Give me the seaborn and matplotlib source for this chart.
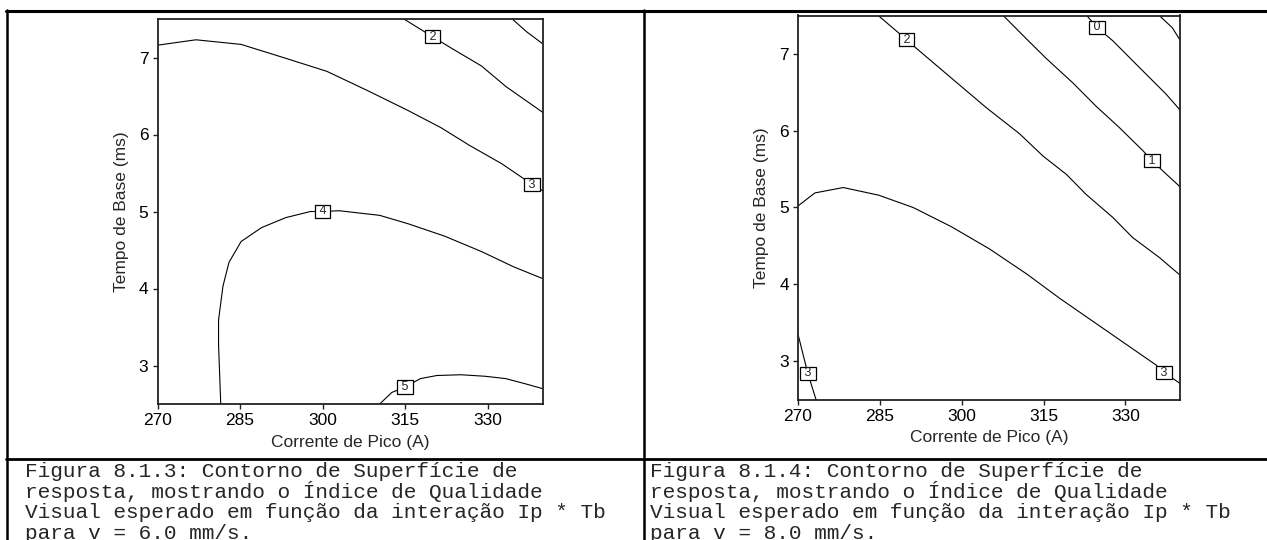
import matplotlib
matplotlib.use("Agg")
import matplotlib.pyplot as plt
from matplotlib.lines import Line2D
import pandas as pd
import seaborn as sns

W, H = 1267, 540

# eixos comuns
ip_ticks = [270, 285, 300, 315, 330]
tb_ticks = [3, 4, 5, 6, 7]
ip_lim = (270, 340)
tb_lim = (2.5, 7.5)

# Figura 8.1.3 (v = 6.0 mm/s) - curvas de nivel
a_lv1_ip = [334.5, 337.1, 340.0]
a_lv1_tb = [7.50, 7.335, 7.18]
a_lv2_ip = [314.8, 320.0, 323.7, 328.9, 333.4, 337.8, 340.0]
a_lv2_tb = [7.50, 7.27, 7.11, 6.89, 6.62, 6.40, 6.29]
a_lv3_ip = [270.0, 277.0, 285.2, 293.3, 300.8, 308.2, 315.6, 321.5, 326.7, 332.6, 336.2, 338.1, 340.0]
a_lv3_tb = [7.16, 7.23, 7.17, 6.99, 6.82, 6.57, 6.31, 6.09, 5.86, 5.62, 5.445, 5.35, 5.27]
a_lv4_ip = [281.5, 281.1, 281.1, 281.9, 283.0, 285.2, 288.9, 293.3, 297.8, 300.0, 303.0,
            310.4, 315.6, 322.2, 328.9, 334.8, 340.0]
a_lv4_tb = [2.50, 3.27, 3.59, 4.03, 4.34, 4.61, 4.79, 4.92, 5.00, 5.00, 5.01,
            4.95, 4.84, 4.68, 4.48, 4.28, 4.13]
a_lv5_ip = [310.4, 312.6, 315.0, 317.8, 320.8, 325.2, 329.6, 333.3, 337.0, 340.0]
a_lv5_tb = [2.50, 2.65, 2.72, 2.83, 2.87, 2.88, 2.86, 2.83, 2.76, 2.70]
a_lab_ip = [320.0, 338.1, 300.0, 315.0]
a_lab_tb = [7.27, 5.35, 5.00, 2.72]
a_lab_txt = ["2", "3", "4", "5"]

# Figura 8.1.4 (v = 8.0 mm/s)
b_lvm1_ip = [336.2, 338.6, 340.0]
b_lvm1_tb = [7.50, 7.34, 7.18]
b_lv0_ip = [322.9, 324.8, 327.7, 331.9, 335.0, 337.4, 340.0]
b_lv0_tb = [7.50, 7.345, 7.17, 6.87, 6.65, 6.48, 6.27]
b_lv1_ip = [307.6, 311.8, 315.5, 320.4, 324.6, 328.9, 333.2, 334.9, 336.8, 340.0]
b_lv1_tb = [7.50, 7.20, 6.94, 6.62, 6.32, 6.04, 5.74, 5.61, 5.48, 5.27]
b_lv2_ip = [284.7, 289.9, 291.4, 297.2, 304.5, 310.6, 314.9, 319.2, 322.8, 327.7, 331.3, 336.2, 340.0]
b_lv2_tb = [7.50, 7.185, 7.09, 6.74, 6.30, 5.96, 5.67, 5.43, 5.17, 4.87, 4.61, 4.35, 4.12]
b_lv3_ip = [270.0, 273.1, 278.3, 284.8, 291.1, 298.1, 305.1, 312.0, 317.9, 324.0, 330.1,
            335.6, 337.1, 340.0]
b_lv3_tb = [5.02, 5.19, 5.26, 5.16, 5.00, 4.75, 4.46, 4.13, 3.82, 3.52, 3.22,
            2.95, 2.85, 2.71]
b_lv3b_ip = [270.0, 271.8, 273.3]
b_lv3b_tb = [3.35, 2.84, 2.50]
b_lab_ip = [289.9, 324.8, 334.9, 337.1, 271.8]
b_lab_tb = [7.185, 7.345, 5.61, 2.85, 2.84]
b_lab_txt = ["2", "0", "1", "3", "3"]

cap_a = ["Figura 8.1.3: Contorno de Superfície de",
         "resposta, mostrando o Índice de Qualidade",
         "Visual esperado em função da interação Ip * Tb",
         "para v = 6.0 mm/s."]
cap_b = ["Figura 8.1.4: Contorno de Superfície de",
         "resposta, mostrando o Índice de Qualidade",
         "Visual esperado em função da interação Ip * Tb",
         "para v = 8.0 mm/s."]


def curves_frame(curves):
    parts = []
    for k, (xs, ys) in enumerate(curves):
        parts.append(pd.DataFrame({"ip": xs, "tb": ys, "curva": k}))
    return pd.concat(parts, ignore_index=True)


def draw_panel(ax, curves, lab_x, lab_y, lab_txt):
    df = curves_frame(curves)
    sns.lineplot(data=df, x="ip", y="tb", units="curva", estimator=None, sort=False,
                 color="black", linewidth=0.8, legend=False, ax=ax)
    for x, y, t in zip(lab_x, lab_y, lab_txt):
        ax.text(x, y, f" {t} ", fontsize=9, ha="center", va="center", zorder=5,
                bbox=dict(boxstyle="square,pad=0.06", fc="white", ec="black", lw=0.9))
    ax.set_xlim(*ip_lim)
    ax.set_ylim(*tb_lim)
    ax.set_xticks(ip_ticks)
    ax.set_yticks(tb_ticks)
    ax.tick_params(direction="out", length=3.5, width=1.0, labelsize=12.5, pad=3,
                   color="#222222", labelcolor="black")
    for sp in ax.spines.values():
        sp.set_visible(True)
        sp.set_linewidth(1.3)
        sp.set_color("#222222")
    ax.set_xlabel("Corrente de Pico (A)", fontsize=12.5, labelpad=5)
    ax.set_ylabel("Tempo de Base (ms)", fontsize=12.5, labelpad=7)
    ax.grid(False)


sns.set_theme(style="ticks")
plt.rcParams["font.family"] = ["Liberation Sans", "DejaVu Sans"]

fig = plt.figure(figsize=(W / 100, H / 100), dpi=100)
fig.patch.set_facecolor("white")

ax1 = fig.add_axes([157.5 / W, 1 - 404 / H, 385 / W, 385 / H])
ax2 = fig.add_axes([798 / W, 1 - 399.5 / H, 382 / W, 384 / H])

draw_panel(ax1,
           [(a_lv1_ip, a_lv1_tb), (a_lv2_ip, a_lv2_tb), (a_lv3_ip, a_lv3_tb),
            (a_lv4_ip, a_lv4_tb), (a_lv5_ip, a_lv5_tb)],
           a_lab_ip, a_lab_tb, a_lab_txt)
draw_panel(ax2,
           [(b_lvm1_ip, b_lvm1_tb), (b_lv0_ip, b_lv0_tb), (b_lv1_ip, b_lv1_tb),
            (b_lv2_ip, b_lv2_tb), (b_lv3_ip, b_lv3_tb), (b_lv3b_ip, b_lv3b_tb)],
           b_lab_ip, b_lab_tb, b_lab_txt)


# bordas da tabela do documento
def hline(y, x0, x1, lw):
    fig.add_artist(Line2D([x0 / W, x1 / W], [1 - y / H, 1 - y / H],
                          transform=fig.transFigure, color="black", lw=lw))


def vline(x, y0, y1, lw):
    fig.add_artist(Line2D([x / W, x / W], [1 - y0 / H, 1 - y1 / H],
                          transform=fig.transFigure, color="black", lw=lw))


hline(11, 6, W, 2.2)
hline(458.5, 6, W, 2.0)
vline(7, 10, H, 1.8)
vline(644, 10, H, 1.8)

# legendas das figuras (a ultima linha fica cortada pela margem, como no original)
for i, (la, lb) in enumerate(zip(cap_a, cap_b)):
    yb = 477 + i * 20.7
    fig.text(25 / W, 1 - yb / H, la, family="Liberation Mono", fontsize=15.2, va="baseline")
    fig.text(650 / W, 1 - yb / H, lb, family="Liberation Mono", fontsize=15.2, va="baseline")

fig.savefig("out.png", dpi=100)
